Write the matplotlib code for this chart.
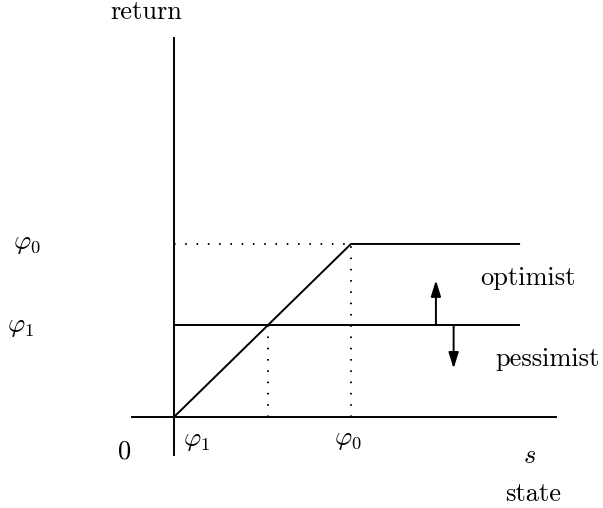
import matplotlib.pyplot as plt

plt.rcParams["font.family"] = "serif"
plt.rcParams["font.serif"] = ["cmr10"]
plt.rcParams["mathtext.fontset"] = "cm"
plt.rcParams["axes.unicode_minus"] = False

# diagram values (phi0 = 1 unit)
phi0 = 1.0
phi1 = 0.53
s_end = 1.95
x_axis = [-0.24, 2.16]
y_axis = [-0.22, 2.19]
up_arrow = (1.48, 0.79)     # x, tip height
down_arrow = (1.58, 0.28)

fig = plt.figure(figsize=(6.03, 5.08), dpi=100)
ax = fig.add_axes([0, 0, 1, 1])
ax.set_xlim(-0.983, 2.424)
ax.set_ylim(-0.526, 2.41)
ax.axis("off")

lw = 1.4
dots = (0, (0.8, 5.0))
# axes
ax.plot(x_axis, [0, 0], color="black", lw=lw)
ax.plot([0, 0], y_axis, color="black", lw=lw)

# pessimist constant return
ax.plot([0, s_end], [phi1, phi1], color="black", lw=lw)
# optimist kinked return
ax.plot([0, phi0, s_end], [0, phi0, phi0], color="black", lw=lw)

# dotted guides
ax.plot([0, phi0], [phi0, phi0], color="black", lw=lw, ls=dots)
ax.plot([phi0, phi0], [0, phi0], color="black", lw=lw, ls=dots)
ax.plot([phi1, phi1], [0, phi1], color="black", lw=lw, ls=dots)

# arrows
arrow = dict(arrowstyle="-|>,head_length=0.8,head_width=0.25", color="black",
             lw=lw, mutation_scale=12, shrinkA=0, shrinkB=0)
ax.annotate("", xy=(up_arrow[0], up_arrow[1]), xytext=(up_arrow[0], phi1),
            arrowprops=arrow)
ax.annotate("", xy=(down_arrow[0], down_arrow[1]), xytext=(down_arrow[0], phi1),
            arrowprops=arrow)

fs = 19
ax.text(-0.158, 2.34, "return", fontsize=fs, ha="center", va="center")
ax.text(2.03, -0.445, "state", fontsize=fs, ha="center", va="center")
ax.text(2.006, -0.225, r"$s$", fontsize=fs, ha="center", va="center")
ax.text(-0.277, -0.2, "0", fontsize=fs, ha="center", va="center")
ax.text(0.127, -0.139, r"$\varphi_1$", fontsize=fs, ha="center", va="center")
ax.text(0.985, -0.133, r"$\varphi_0$", fontsize=fs, ha="center", va="center")
ax.text(-0.83, 1.0, r"$\varphi_0$", fontsize=fs, ha="center", va="center")
ax.text(-0.865, 0.52, r"$\varphi_1$", fontsize=fs, ha="center", va="center")
ax.text(2.0, 0.80, "optimist", fontsize=fs, ha="center", va="center")
ax.text(2.11, 0.335, "pessimist", fontsize=fs, ha="center", va="center")

fig.savefig("out.png", dpi=100)
